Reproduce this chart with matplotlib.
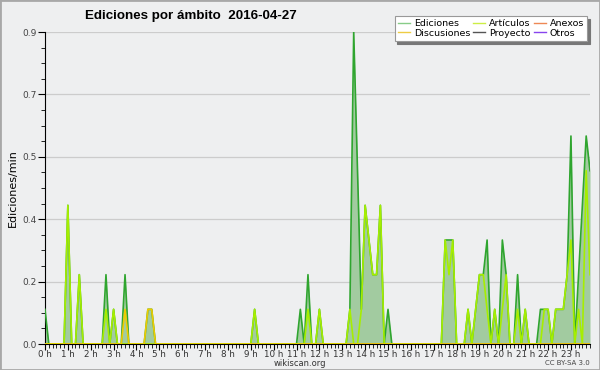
import numpy as np
import matplotlib
matplotlib.use("Agg")
import matplotlib.pyplot as plt
from matplotlib.patches import Rectangle
from matplotlib.lines import Line2D

# 10-minute bins, one row per hour (edits per minute)
ediciones = [
    0.1, 0, 0, 0, 0, 0,          # 0 h
    0.4, 0, 0, 0.2, 0, 0,        # 1 h
    0, 0, 0, 0, 0.2, 0,          # 2 h
    0.1, 0, 0, 0.2, 0, 0,        # 3 h
    0, 0, 0, 0.1, 0.1, 0,        # 4 h
    0, 0, 0, 0, 0, 0,            # 5 h
    0, 0, 0, 0, 0, 0,            # 6 h
    0, 0, 0, 0, 0, 0,            # 7 h
    0, 0, 0, 0, 0, 0,            # 8 h
    0, 0.1, 0, 0, 0, 0,          # 9 h
    0, 0, 0, 0, 0, 0,            # 10 h
    0, 0.1, 0, 0.2, 0, 0,        # 11 h
    0.1, 0, 0, 0, 0, 0,          # 12 h
    0, 0, 0.1, 0.9, 0.5, 0.1,    # 13 h
    0.4, 0.3, 0.2, 0.2, 0.4, 0,  # 14 h
    0.1, 0, 0, 0, 0, 0,          # 15 h
    0, 0, 0, 0, 0, 0,            # 16 h
    0, 0, 0, 0.3, 0.3, 0.3,      # 17 h
    0, 0, 0, 0.1, 0, 0.1,        # 18 h
    0.2, 0.2, 0.3, 0, 0.1, 0,    # 19 h
    0.3, 0.2, 0, 0, 0.2, 0,      # 20 h
    0.1, 0, 0, 0, 0.1, 0.1,      # 21 h
    0.1, 0, 0.1, 0.1, 0.1, 0.2,  # 22 h
    0.6, 0, 0.2, 0.4, 0.6, 0.5,  # 23 h
]
articulos = [
    0, 0, 0, 0, 0, 0,
    0.4, 0, 0, 0.2, 0, 0,
    0, 0, 0, 0, 0.1, 0,
    0.1, 0, 0, 0, 0, 0,
    0, 0, 0, 0, 0, 0,
    0, 0, 0, 0, 0, 0,
    0, 0, 0, 0, 0, 0,
    0, 0, 0, 0, 0, 0,
    0, 0, 0, 0, 0, 0,
    0, 0.1, 0, 0, 0, 0,
    0, 0, 0, 0, 0, 0,
    0, 0, 0, 0.1, 0, 0,
    0.1, 0, 0, 0, 0, 0,
    0, 0, 0.1, 0, 0, 0.1,
    0.4, 0.3, 0.2, 0.2, 0.4, 0,
    0, 0, 0, 0, 0, 0,
    0, 0, 0, 0, 0, 0,
    0, 0, 0, 0.3, 0.2, 0.3,
    0, 0, 0, 0.1, 0, 0.1,
    0.2, 0.2, 0.1, 0, 0.1, 0,
    0.1, 0.2, 0, 0, 0.1, 0,
    0.1, 0, 0, 0, 0, 0.1,
    0.1, 0, 0.1, 0.1, 0.1, 0.2,
    0.3, 0, 0.1, 0, 0.5, 0.2,
]
discusiones = [0.0] * 144
discusiones[21] = 0.1
discusiones[27] = 0.1
discusiones[28] = 0.1
anexos = [0.0] * 144
proyecto = [0.0] * 144
otros = [0.0] * 144

hours = np.arange(144) / 6.0
hour_labels = [f"{h} h" for h in range(24)]
BG = "#eeeff0"

fig = plt.figure(figsize=(6.0, 3.7), dpi=100, facecolor=BG)
ax = fig.add_axes([45/600, 1-344/370, 545/600, 312/370], facecolor=BG)

ax.fill_between(hours, ediciones, 0, color="#a2cba0", lw=0, zorder=1)
ax.plot(hours, otros, color="#8844ee", lw=1.1, zorder=1.5)
ax.plot(hours, proyecto, color="#555555", lw=1.1, zorder=1.5)
ax.plot(hours, anexos, color="#ee8855", lw=1.1, zorder=1.5)
ax.plot(hours, ediciones, color="#2fa52f", lw=1.2, zorder=3)
ax.plot(hours, articulos, color="#a6ee00", lw=1.2, zorder=4)
ax.plot(hours, discusiones, color="#eecc00", lw=1.2, zorder=5)

ax.set_xlim(0, hours[-1])
ax.set_ylim(0, 0.9)
yt = [0.9 * i / 5 for i in range(6)]
ax.set_yticks(yt)
ax.set_yticklabels([f"{v:.1f}" for v in yt])
ax.set_yticks([0.9 * i / 20 for i in range(21)], minor=True)
ax.set_xticks(range(24))
ax.set_xticklabels(hour_labels)
ax.set_xticks(hours, minor=True)
ax.tick_params(axis="y", which="major", length=5, labelsize=6.5, labelcolor="#444", pad=1)
ax.tick_params(axis="y", which="minor", length=3)
ax.tick_params(axis="x", which="major", length=4, labelsize=6.3, labelcolor="#333", pad=0.5)
ax.tick_params(axis="x", which="minor", length=3)
ax.grid(axis="y", color="#cccccc", lw=0.9)
ax.set_axisbelow(True)
for s in ["top", "right"]:
    ax.spines[s].set_visible(False)

ax.set_ylabel("Ediciones/min", fontsize=8, labelpad=3)
fig.text(85/600, 1-16/370, "Ediciones por ámbito  2016-04-27", fontsize=9.6,
         fontweight="bold", ha="left", va="center", family="Liberation Sans")
fig.text(300/600, 1-364/370, "wikiscan.org", fontsize=6, ha="center", va="center", color="#333")
fig.text(590/600, 1-363/370, "CC BY-SA 3.0", fontsize=5, ha="right", va="center", color="#444")

handles = [Line2D([], [], color="#88cc88", lw=1), Line2D([], [], color="#eecc44", lw=1),
           Line2D([], [], color="#ccee44", lw=1), Line2D([], [], color="#555555", lw=1),
           Line2D([], [], color="#ee8855", lw=1), Line2D([], [], color="#8844ee", lw=1)]
labels = ["Ediciones", "Discusiones", "Artículos", "Proyecto", "Anexos", "Otros"]
leg = fig.legend(handles, labels, ncol=3, loc="upper right", bbox_to_anchor=(592/600, 1-11/370),
                 fontsize=6.8, frameon=True, fancybox=False, shadow={"color": "#777", "alpha": 1},
                 handlelength=1.3, handletextpad=0.4, columnspacing=0.3, labelspacing=0.05,
                 borderpad=0.35, edgecolor="#999")
leg.get_frame().set_linewidth(0.8)

fig.patches.append(Rectangle((0, 0), 1, 1, transform=fig.transFigure, fill=False,
                             edgecolor="#a8a8a8", lw=2))
fig.savefig("out.png", dpi=100, facecolor=BG)
